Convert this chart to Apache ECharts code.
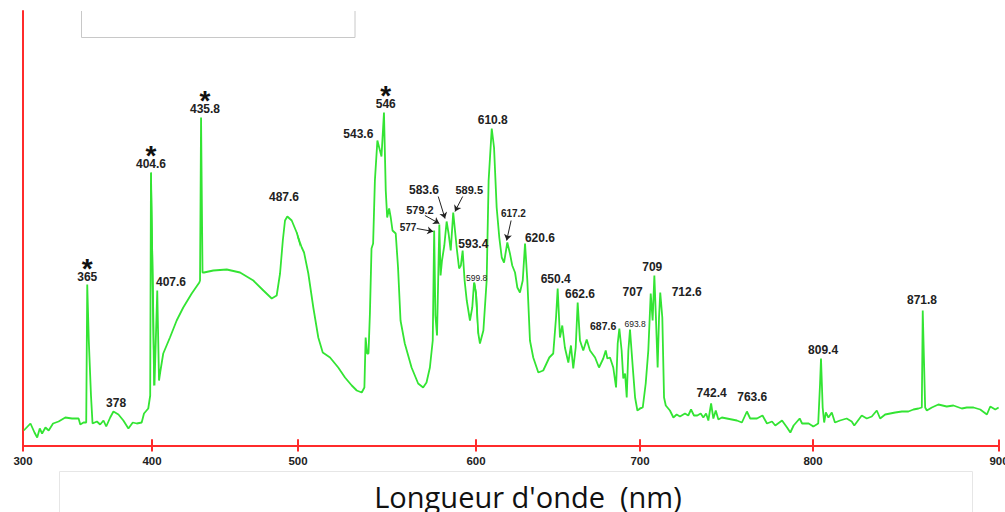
<!DOCTYPE html>
<html><head><meta charset="utf-8">
<script src="https://cdn.jsdelivr.net/npm/echarts@6/dist/echarts.min.js"></script>
<style>html,body{margin:0;padding:0;background:#fff}#c{width:1005px;height:512px}</style>
</head><body><div id="c"></div>
<script>
// ---- data (wavelength in nm, intensity in arbitrary units) ----
const wavelength = [
300.6,305.8,308.9,311.0,313.0,314.8,317.4,319.9,323.3,327.6,332.8,338.0,343.1,344.4,346.9,349.0,349.8,351.0,352.7,353.9,357.3,359.8,362.4,364.5,367.6,370.1,374.0,377.8,381.7,385.1,388.2,392.0,393.8,397.1,398.6,399.2,
401.7,403.6,404.8,405.7,407.7,412.3,416.9,421.4,427.2,432.4,432.9,433.6,434.6,435.6,442.0,451.2,460.3,469.4,476.3,482.0,485.4,487.7,489.6,491.1,492.7,495.7,499.1,
502.1,503.4,505.8,508.6,511.4,513.9,518.0,522.6,526.4,530.2,533.0,535.8,537.3,538.0,538.8,539.6,540.4,541.3,542.2,543.2,544.6,546.9,548.3,549.3,550.1,551.2,552.1,553.1,554.9,556.2,557.6,560.0,563.8,567.5,570.3,572.2,574.1,575.7,576.5,577.2,578.1,579.4,580.1,580.9,582.2,583.5,584.6,585.8,587.2,588.2,589.2,590.5,591.5,592.5,593.6,594.8,596.6,597.9,598.9,600.0,
601.4,602.4,604.5,606.5,607.7,609.6,611.0,612.6,614.2,615.7,617.1,619.1,620.7,622.1,623.8,625.2,626.8,628.5,629.9,631.3,632.9,634.9,638.0,641.0,644.7,647.1,648.8,649.8,651.2,652.6,654.2,656.3,657.9,659.3,660.8,662.0,663.4,665.4,667.5,669.5,672.6,675.0,677.6,679.1,680.1,681.7,683.7,685.4,686.4,687.4,688.8,689.8,690.9,691.9,692.9,693.9,695.6,697.0,698.4,700.0,
701.6,703.3,704.8,706.2,707.3,708.3,709.2,710.2,711.0,711.7,712.9,713.9,714.9,717.3,719.3,721.2,723.1,726.0,727.9,729.5,731.2,733.1,735.1,736.6,738.2,739.5,741.1,742.4,743.8,745.3,747.3,750.2,753.1,756.0,758.9,761.8,763.7,767.6,770.8,773.4,776.3,778.2,782.1,785.0,786.9,788.8,792.3,793.7,797.5,
800.2,802.8,803.8,804.3,805.2,806.0,806.9,808.3,810.1,811.8,814.5,818.1,820.8,822.2,826.2,828.9,831.6,834.3,836.1,838.8,841.5,844.2,847.8,851.3,854.0,856.7,858.5,859.0,860.3,861.2,863.9,867.4,871.9,875.5,880.0,882.7,886.3,889.9,893.5,895.3,898.0,899.8
];
const intensity = [
15,22,13,8,17,12,18,15,22,24,28,27,27,21,23,23,161,105,50,22,24,21,25,19,28,34,31,25,17,23,22,23,32,37,50,273,
60,155,65,74,92,108,125,138,152,163,165,328,173,173,175,176,173,165,155,147,150,172,205,225,229,225,213,
198,193,172,138,108,93,88,78,68,60,55,53,58,108,92,92,132,197,202,265,305,289,333,255,228,237,228,215,212,178,125,102,78,62,58,63,78,105,215,130,110,221,170,185,200,224,212,195,233,215,197,177,180,195,165,145,125,138,163,152,
112,102,115,165,265,317,298,238,208,188,183,203,192,180,173,158,153,165,202,165,105,88,73,75,88,92,128,157,108,120,98,83,100,77,98,143,105,95,106,95,88,78,87,95,87,88,78,58,102,117,95,67,72,48,95,116,78,48,35,37,
38,62,95,152,125,170,128,78,128,153,128,48,40,35,28,31,29,32,30,36,30,30,32,28,32,25,42,27,35,26,28,27,26,25,23,34,27,27,30,22,24,20,25,18,13,20,27,22,22,
19,22,62,87,38,23,33,28,33,23,25,27,24,20,30,27,29,35,27,31,32,33,34,34,36,37,38,135,38,35,38,41,39,40,37,38,38,36,31,39,36,38
];

// x-axis ticks
const tickValues = [300, 400, 500, 600, 700, 800, 900];
const tickLabels = ['300', '400', '500', '600', '700', '800', '900'];

// peak annotations (text and anchor in data units)
const peakText = ['365','378','404.6','407.6','435.8','487.6','543.6','546','577','579.2','583.6','589.5','593.4','599.8','610.8','617.2','620.6','650.4','662.6','687.6','693.8','707','709','712.6','742.4','763.6','809.4','871.8'];
const peakX = [349.8,372.2,399.2,413.0,436.3,490.4,533.9,549.3,561.8,568.5,570.8,596.2,598.5,600.4,610.2,622.8,639.0,648.6,663.4,677.5,697.0,695.5,707.1,727.0,741.4,764.9,805.4,858.6];
const peakY = [169,43,282,164,337,249,312,342,218,236,256,256,202,168,326,232,208,167,152,120,122,154,179,154,53,49,96,146];

// mercury lines marked with an asterisk
const starred = ['365', '404.6', '435.8', '546'];

// leader arrows
const arrowX1 = [566.7, 571.3, 578.8, 592.5, 621.4];
const arrowY1 = [217, 230, 249, 249, 225];
const arrowX2 = [576.0, 579.4, 582.6, 588.2, 618.7];
const arrowY2 = [214, 222, 227, 234, 205];

const axisTitle = "Longueur d'onde  (nm)";

// ---- styles / layout ----
const RED = '#ff2b2b', GREEN = '#33e433', TXT = '#222';
const FONT = '"Liberation Sans", Arial, sans-serif';
const GRID_TOP = 11, AXIS_Y = 445.5, YMAX = AXIS_Y - GRID_TOP;
const tickPx = [23, 152, 298, 476, 640, 813, 999];
const labelStyle = {
  '577': {fontSize: 10}, '579.2': {fontSize: 11}, '589.5': {fontSize: 11},
  '599.8': {fontSize: 8.5, fontWeight: 'normal'}, '617.2': {fontSize: 10},
  '687.6': {fontSize: 10.5}, '693.8': {fontSize: 8.5, fontWeight: 'normal'}
};
const STAR_LH = 4, NUM_LH = 13;

const nSeg = tickValues.length - 1;
const segOf = w => { for (let i = 0; i < nSeg; i++) if (w < tickValues[i + 1] || i === nSeg - 1) return i; };

const grids = [], xAxes = [], yAxes = [], series = [];
for (let i = 0; i < nSeg; i++) {
  const lo = tickValues[i], hi = tickValues[i + 1];
  grids.push({left: tickPx[i], width: tickPx[i + 1] - tickPx[i], top: GRID_TOP, height: YMAX,
              containLabel: false, outerBoundsMode: 'none'});
  const fmt = v => tickLabels[tickValues.indexOf(Math.round(v))] || '';
  xAxes.push({type: 'value', gridIndex: i, min: lo, max: hi, interval: 100, position: 'bottom',
    axisLine: {show: true, onZero: false, lineStyle: {color: RED, width: 2}},
    axisTick: {show: true, inside: false, length: 6, lineStyle: {color: RED, width: 2}},
    axisLabel: {show: true, margin: 9, color: TXT, fontSize: 11.5, fontWeight: 'bold', fontFamily: FONT,
      showMinLabel: true, showMaxLabel: i === nSeg - 1, formatter: fmt},
    splitLine: {show: false}});
  xAxes.push({type: 'value', gridIndex: i, min: lo, max: hi, interval: 100, position: 'top', offset: -YMAX,
    axisLine: {show: false, onZero: false},
    axisTick: {show: true, inside: false, length: 6, lineStyle: {color: RED, width: 2}},
    axisLabel: {show: false}, splitLine: {show: false}});
  yAxes.push({type: 'value', gridIndex: i, min: 0, max: YMAX, show: i === 0, position: 'left',
    axisLine: {show: true, onZero: false, lineStyle: {color: RED, width: 2}},
    axisTick: {show: false}, axisLabel: {show: false}, splitLine: {show: false}});

  const pts = [];
  for (let k = 0; k < wavelength.length; k++) {
    const w = wavelength[k];
    if ((w >= lo && w <= hi) || (w < lo && k + 1 < wavelength.length && wavelength[k + 1] >= lo) ||
        (w > hi && k > 0 && wavelength[k - 1] <= hi)) pts.push([w, intensity[k]]);
  }
  const arrows = [];
  for (let a = 0; a < arrowX1.length; a++) {
    if (segOf(arrowX1[a]) === i) arrows.push([{coord: [arrowX1[a], arrowY1[a]]}, {coord: [arrowX2[a], arrowY2[a]]}]);
  }
  series.push({type: 'line', xAxisIndex: 2 * i, yAxisIndex: i, data: pts, showSymbol: false, clip: true,
    lineStyle: {color: GREEN, width: 1.8}, itemStyle: {color: GREEN}, silent: true, z: 3,
    markLine: arrows.length ? {silent: true, symbol: ['none', 'arrow'], symbolSize: 6, animation: false,
      lineStyle: {color: TXT, width: 1, type: 'solid'}, label: {show: false}, emphasis: {disabled: true}, data: arrows} : undefined});

  const lab = [];
  for (let p = 0; p < peakText.length; p++) {
    if (segOf(peakX[p]) !== i) continue;
    const st = labelStyle[peakText[p]] || {};
    const item = {value: [peakX[p], peakY[p]], name: peakText[p],
      label: {fontSize: st.fontSize || 12, fontWeight: st.fontWeight || 'bold'}};
    if (starred.indexOf(peakText[p]) >= 0) {
      item.label = {
        formatter: '{s|*}\n{n|{b}}', offset: [0, -STAR_LH / 2],
        rich: {
          s: {fontSize: 28, fontWeight: 'bold', lineHeight: STAR_LH, color: '#111', fontFamily: FONT, align: 'center'},
          n: {fontSize: 12, fontWeight: 'bold', lineHeight: NUM_LH, color: TXT, fontFamily: FONT, align: 'center'}
        }
      };
    }
    lab.push(item);
  }
  series.push({type: 'scatter', xAxisIndex: 2 * i, yAxisIndex: i, data: lab, symbolSize: 1, clip: false,
    itemStyle: {color: 'rgba(0,0,0,0)'}, silent: true, z: 5,
    label: {show: true, position: 'inside', formatter: '{b}', color: TXT, fontFamily: FONT, opacity: 1}});
}

const chart = echarts.init(document.getElementById('c'), null, {renderer: 'svg'});
chart.setOption({
  animation: false,
  backgroundColor: '#fff',
  grid: grids, xAxis: xAxes, yAxis: yAxes, series: series,
  graphic: [
    {type: 'rect', shape: {x: 81.5, y: 11, width: 273.5, height: 26}, style: {fill: '#fff'}, z: 1},
    {type: 'polyline', shape: {points: [[81.5, 11], [81.5, 37.5], [355, 37.5], [355, 11]]},
      style: {fill: null, stroke: '#c8c8c8', lineWidth: 1}, z: 2},
    {type: 'rect', shape: {x: 59.5, y: 471.5, width: 913, height: 60},
      style: {fill: '#fff', stroke: '#e6e6e6', lineWidth: 1}, z: 1},
    {type: 'text', x: 528, y: 496, z: 3,
      style: {text: axisTitle, fontSize: 29, fontFamily: '"Open Sans", Lato, sans-serif', fill: '#111',
        textAlign: 'center', textVerticalAlign: 'middle', align: 'center', verticalAlign: 'middle'}}
  ]
});
</script></body></html>
